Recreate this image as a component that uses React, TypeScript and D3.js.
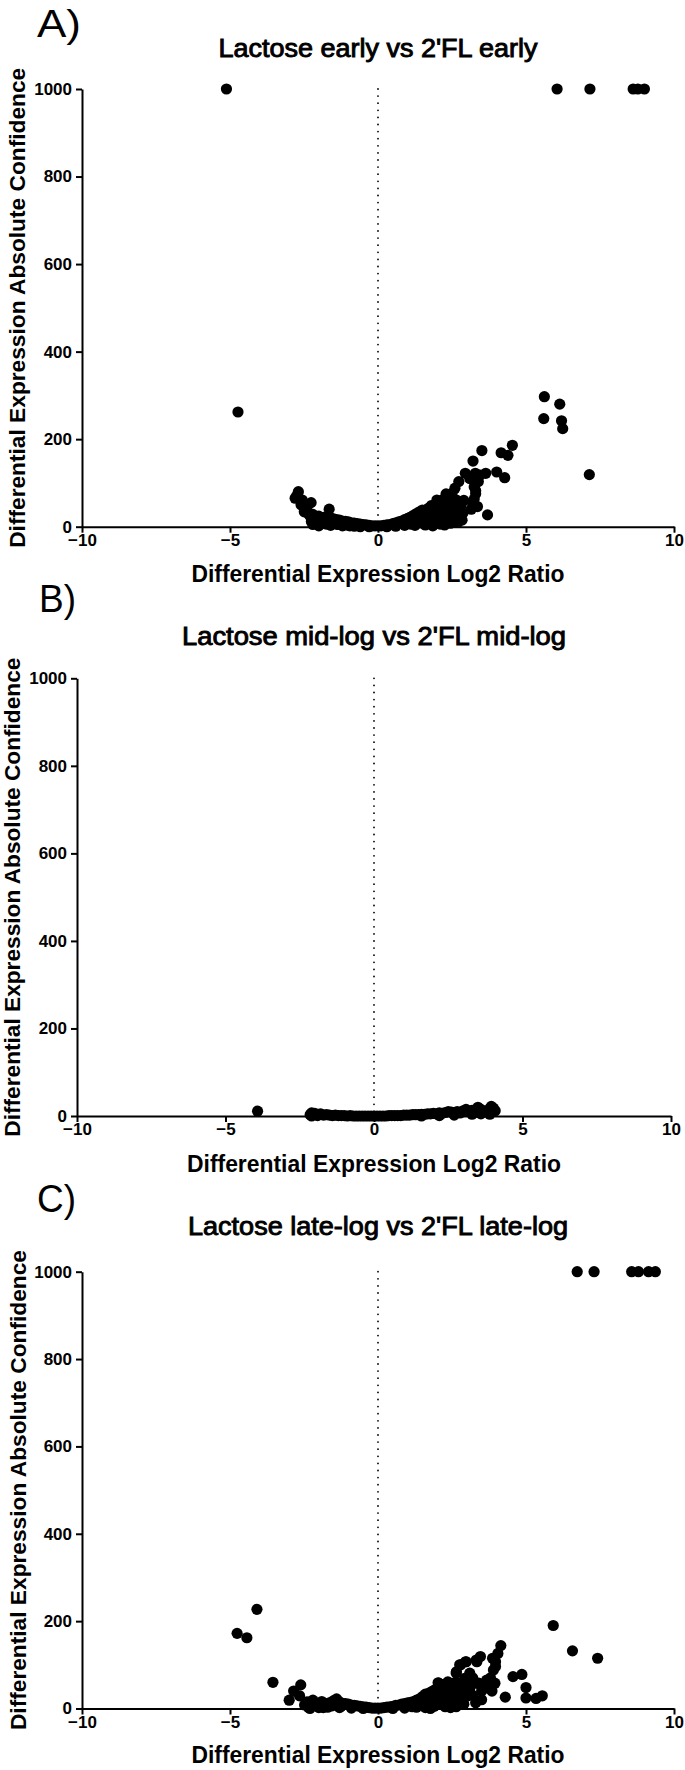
import React, { useEffect, useRef } from 'react';
import * as d3 from 'd3';

const xTicks = [-10, -5, 0, 5, 10];
const yTicks = [0, 200, 400, 600, 800, 1000];
const xLabel = 'Differential Expression Log2 Ratio';
const yLabel = 'Differential Expression Absolute Confidence';
const panelTitles = [
  "Lactose early vs 2'FL early",
  "Lactose mid-log vs 2'FL mid-log",
  "Lactose late-log vs 2'FL late-log",
];
const panelLetters = ['A)', 'B)', 'C)'];

// [log2 ratio, absolute confidence]
const earlyPoints: [number, number][] = [
  [-5.12, 1000], [6.05, 1000], [7.16, 1000], [8.62, 1000], [8.78, 1000], [9.0, 1000],
  [-4.73, 262], [5.62, 297], [5.6, 247], [6.14, 280], [6.2, 242], [6.24, 224], [7.14, 119],
  [4.54, 186], [4.39, 163], [4.16, 169], [3.51, 174], [4.01, 125], [4.28, 112], [3.21, 150],
  [3.7, 27], [2.95, 122], [3.29, 122], [3.39, 103], [3.25, 91], [3.25, 63], [3.36, 46],
  [3.64, 122], [2.73, 103], [2.5, 76], [2.87, 31], [2.84, 15], [2.65, 61], [2.21, 53],
  [1.99, 61], [2.14, 15], [3.1, 110], [3.45, 118], [3.3, 75], [3.15, 40], [2.8, 48],
  [2.4, 40], [2.3, 65], [3.25, 105], [3.3, 82], [3.2, 55], [2.6, 88], [2.9, 60],
  [-2.69, 80], [-2.8, 65], [-2.56, 61], [-2.26, 55], [-2.49, 34], [-1.65, 40], [-2.13, 17],
  [-2.75, 70], [-2.4, 45], [-2.6, 50], [-2.35, 30],
  [-2.3, 25], [-2.2, 28], [-2.1, 22], [-2.0, 24], [-1.9, 20], [-1.8, 22], [-1.7, 18],
  [-1.6, 20], [-1.5, 18], [-1.4, 16], [-1.3, 15], [-1.2, 13], [-1.1, 12], [-1.0, 11],
  [-0.9, 9], [-0.8, 8], [-0.7, 7], [-0.6, 6], [-0.5, 5], [-0.4, 4], [-0.3, 3], [-0.2, 2],
  [-0.1, 2], [0, 2], [0.1, 2], [0.2, 3], [0.3, 4], [0.4, 5], [0.5, 7], [0.6, 9], [0.7, 11],
  [0.8, 13], [0.9, 16], [1.0, 19], [1.1, 22], [1.2, 26], [1.3, 30], [1.4, 34], [1.5, 38],
  [1.6, 36], [1.7, 42], [1.8, 48], [1.9, 44], [2.0, 40], [2.1, 50], [2.2, 62], [2.3, 75],
  [2.4, 58], [2.5, 50],
  [-2.2, 5], [-2.0, 2], [-1.8, 8], [-1.6, 3], [-1.4, 6], [-1.2, 2], [-1.0, 3], [-0.8, 1],
  [-0.6, 0], [-0.3, 0], [0.3, 0], [0.6, 1], [0.9, 3], [1.1, 6], [1.3, 10], [1.5, 14],
  [1.6, 4], [1.8, 20], [1.9, 8], [2.0, 24], [2.2, 30], [2.3, 12], [2.1, 6], [2.4, 22],
  [2.6, 35], [1.7, 12],
  [-2.25, 12], [-1.95, 10], [-1.75, 6], [-1.55, 9], [-1.35, 5], [-1.15, 4], [-0.95, 2],
  [1.25, 3], [1.45, 22], [1.55, 6], [1.75, 28], [1.85, 2], [1.95, 30], [2.05, 12],
  [2.15, 35], [2.25, 4], [2.35, 48], [2.45, 8], [2.55, 20], [2.7, 10],
];

const midPoints: [number, number][] = [
  [-3.92, 11],
  [-2.15, 3], [-2.1, 7], [-2.0, 6], [-1.9, 4], [-1.8, 5], [-1.7, 2], [-1.6, 3], [-1.5, 2],
  [-1.4, 1], [-1.3, 2], [-1.2, 1], [-1.1, 1], [-1.0, 1], [-0.9, 0], [-0.8, 1], [-0.7, 0],
  [-0.6, 0], [-0.5, 0], [-0.4, 0], [-0.3, 0], [-0.2, 0], [-0.1, 0], [0, 0], [0.1, 0],
  [0.2, 0], [0.3, 0], [0.4, 0], [0.5, 1], [0.6, 1], [0.7, 1], [0.8, 1], [0.9, 1], [1.0, 2],
  [1.1, 2], [1.2, 2], [1.3, 3], [1.4, 3], [1.5, 3], [1.6, 4], [1.7, 4], [1.8, 5], [1.9, 5],
  [2.0, 6], [2.1, 5], [2.2, 7], [2.3, 6], [2.4, 8], [2.5, 10], [2.6, 9], [2.7, 8], [2.8, 10],
  [2.9, 7], [3.0, 12], [3.1, 15], [3.2, 10], [3.3, 13], [3.4, 8], [3.5, 20], [3.6, 15],
  [3.7, 11], [3.8, 9], [3.9, 17], [3.95, 22], [4.0, 14], [4.02, 18], [4.08, 12], [3.3, 4],
  [3.6, 5], [3.9, 4], [2.7, 2], [2.2, 1], [1.6, 0], [-2.1, 0], [-1.9, 1],
];

const latePoints: [number, number][] = [
  [6.73, 1000], [7.3, 1000], [8.57, 1000], [8.8, 1000], [9.14, 1000], [9.37, 1000],
  [-4.09, 227], [-4.76, 172], [-4.43, 162], [-3.55, 60], [-2.61, 54], [-2.85, 40],
  [-3.0, 19], [-2.65, 29],
  [5.92, 190], [6.57, 132], [7.42, 115], [4.15, 144], [4.05, 126], [3.87, 115], [3.97, 107],
  [3.9, 88], [3.97, 96], [3.46, 119], [3.34, 107], [2.98, 107], [2.79, 100], [2.64, 81],
  [2.64, 61], [4.56, 73], [4.86, 78], [5.0, 48], [5.0, 24], [4.3, 26], [5.34, 23],
  [5.55, 29], [3.3, 13], [3.67, 65], [3.75, 46], [3.08, 58], [3.4, 58], [2.27, 4],
  [2.64, 4], [2.05, 58], [2.42, 58], [2.0, 35], [1.72, 35], [1.86, 20], [2.74, 35],
  [3.0, 43], [1.77, 0], [2.03, 59], [2.36, 61], [2.65, 84], [2.76, 100], [2.96, 107],
  [3.32, 111], [3.1, 81], [2.93, 69], [3.32, 58], [3.1, 46],
  [3.5, 40], [3.6, 52], [3.2, 30], [3.5, 20], [2.85, 52], [3.85, 40], [3.95, 58],
  [2.55, 45], [2.3, 40], [2.2, 55], [2.5, 28], [2.7, 15], [3.2, 70], [3.8, 70],
  [-2.48, 8], [-2.4, 15], [-2.3, 6], [-2.2, 19], [-2.1, 10], [-2.0, 12], [-1.9, 16],
  [-1.8, 8], [-1.7, 12], [-1.6, 14], [-1.5, 18], [-1.4, 22], [-1.3, 15], [-1.2, 12],
  [-1.1, 11], [-1.0, 10], [-0.9, 8], [-0.8, 7], [-0.7, 6], [-0.6, 5], [-0.5, 4], [-0.4, 3],
  [-0.3, 2], [-0.2, 1], [-0.1, 1], [0, 1], [0.1, 1], [0.2, 2], [0.3, 3], [0.4, 4], [0.5, 5],
  [0.6, 7], [0.7, 8], [0.8, 10], [0.9, 11], [1.0, 13], [1.1, 14], [1.2, 16], [1.3, 19],
  [1.4, 22], [1.5, 27], [1.6, 33], [1.7, 30], [1.8, 38], [1.9, 42], [2.1, 30], [2.2, 40],
  [2.3, 20], [2.4, 45], [2.5, 15], [2.6, 30], [2.0, 25],
  [-2.3, 0], [-2.0, 2], [-1.7, 3], [-1.3, 2], [-0.9, 1], [-0.5, 0], [0.5, 0], [0.9, 1],
  [1.3, 3], [1.6, 2], [1.9, 5], [2.1, 10], [2.45, 2], [2.8, 20], [3.0, 28], [2.9, 10],
  [-2.35, 3], [-2.05, 6], [-1.85, 2], [-1.55, 6], [-1.25, 5], [1.15, 4], [1.45, 8],
  [1.55, 14], [1.75, 18], [1.95, 14], [2.15, 20], [2.35, 8], [2.55, 5], [1.65, 22],
];

const panelData = [earlyPoints, midPoints, latePoints];

// pixel layout of each panel
const layout = [
  { left: 82, right: 674, top: 89, bottom: 526.7, titleY: 56.7, titleLen: 319, letterX: 37, letterY: 37, letterLen: 44, xLabelY: 581.7, xLabelLen: 373, yLabelX: 25, yLabelLen: 480 },
  { left: 77, right: 671, top: 678.3, bottom: 1116, titleY: 645, titleLen: 384, letterX: 39, letterY: 612, letterLen: 37, xLabelY: 1171.7, xLabelLen: 374, yLabelX: 20, yLabelLen: 479 },
  { left: 82, right: 674, top: 1271.7, bottom: 1708.5, titleY: 1235, titleLen: 380, letterX: 37, letterY: 1212, letterLen: 39, xLabelY: 1763, xLabelLen: 373, yLabelX: 26, yLabelLen: 480 },
];

const W = 685;
const H = 1770;
const FONT = '"Liberation Sans", Arial, sans-serif';

export default function App() {
  const svgRef = useRef<SVGSVGElement>(null);

  useEffect(() => {
    const svg = d3.select(svgRef.current);
    svg.selectAll('*').remove();

    layout.forEach((p, i) => {
      const g = svg.append('g');
      const x = d3.scaleLinear().domain([-10, 10]).range([p.left, p.right]);
      const y = d3.scaleLinear().domain([0, 1000]).range([p.bottom, p.top]);
      const cx = (p.left + p.right) / 2;
      const cy = (p.top + p.bottom) / 2;

      // panel letter
      g.append('text')
        .attr('x', p.letterX)
        .attr('y', p.letterY)
        .attr('textLength', p.letterLen)
        .attr('lengthAdjust', 'spacingAndGlyphs')
        .style('font', `38px ${FONT}`)
        .text(panelLetters[i]);

      // title
      g.append('text')
        .attr('x', cx)
        .attr('y', p.titleY)
        .attr('text-anchor', 'middle')
        .attr('textLength', p.titleLen)
        .attr('lengthAdjust', 'spacingAndGlyphs')
        .attr('stroke', '#000')
        .attr('stroke-width', 0.9)
        .style('font', `25px ${FONT}`)
        .text(panelTitles[i]);

      // axes
      const yAxis = g.append('g')
        .attr('transform', `translate(${p.left},0)`)
        .call(d3.axisLeft(y).tickValues(yTicks).tickFormat(d3.format('d')).tickSize(6).tickSizeOuter(0).tickPadding(4));
      const xAxis = g.append('g')
        .attr('transform', `translate(0,${p.bottom})`)
        .call(d3.axisBottom(x).tickValues(xTicks).tickFormat(d3.format('d')).tickSize(6).tickSizeOuter(0).tickPadding(1));
      [yAxis, xAxis].forEach((a) => {
        a.select('.domain').attr('stroke', '#000').attr('stroke-width', 2);
        a.selectAll('.tick line').attr('stroke', '#000').attr('stroke-width', 2);
        a.selectAll('.tick text')
          .attr('fill', '#000')
          .style('font', `bold 17px ${FONT}`);
      });

      // dotted zero line
      g.append('line')
        .attr('x1', x(0))
        .attr('x2', x(0))
        .attr('y1', y(1000))
        .attr('y2', y(0))
        .attr('stroke', '#000')
        .attr('stroke-width', 1.8)
        .attr('stroke-linecap', 'round')
        .attr('stroke-dasharray', '0 7.1');

      // axis titles
      g.append('text')
        .attr('x', cx)
        .attr('y', p.xLabelY)
        .attr('text-anchor', 'middle')
        .attr('textLength', p.xLabelLen)
        .attr('lengthAdjust', 'spacingAndGlyphs')
        .style('font', `bold 23px ${FONT}`)
        .text(xLabel);

      g.append('text')
        .attr('transform', `translate(${p.yLabelX},${cy}) rotate(-90)`)
        .attr('text-anchor', 'middle')
        .attr('textLength', p.yLabelLen)
        .attr('lengthAdjust', 'spacingAndGlyphs')
        .style('font', `bold 22px ${FONT}`)
        .text(yLabel);

      // points
      g.append('g')
        .selectAll('circle')
        .data(panelData[i])
        .join('circle')
        .attr('cx', (d) => x(d[0]))
        .attr('cy', (d) => y(d[1]))
        .attr('r', 5.6)
        .attr('fill', '#000');
    });
  }, []);

  return (
    <svg
      ref={svgRef}
      width={W}
      height={H}
      style={{ position: 'absolute', left: 0, top: 0, background: '#fff', display: 'block' }}
    />
  );
}
